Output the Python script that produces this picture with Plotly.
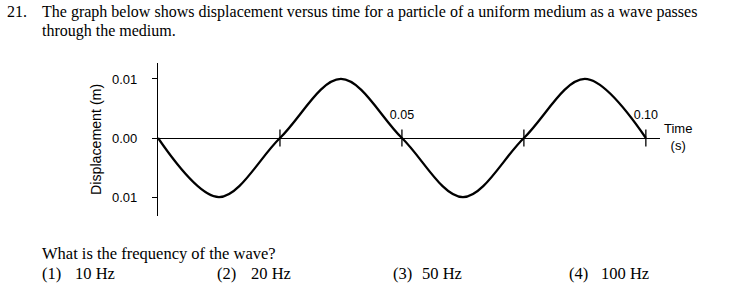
import plotly.graph_objects as go

# Wave data (zero crossings and extremes), in seconds and metres
time_s = [0.0, 0.0125, 0.025, 0.0375, 0.05, 0.0625, 0.075, 0.0875, 0.10]
disp_m = [0.0, -0.01, 0.0, 0.01, 0.0, -0.01, 0.0, 0.01, 0.0]

x_tick_marks = [0.025, 0.05, 0.075, 0.10]
x_tick_vals = [0.05, 0.10]
x_tick_text = ["0.05", "0.10"]
y_tick_vals = [-0.01, 0.0, 0.01]
y_tick_text = ["0.01", "0.00", "0.01"]

choice_nums = ["(1)", "(2)", "(3)", "(4)"]
choice_vals = ["10 Hz", "20 Hz", "50 Hz", "100 Hz"]

W, H = 731, 290
SANS = "Liberation Sans, Arial, sans-serif"
SERIF = "Liberation Serif, Times New Roman, serif"

fig = go.Figure()
fig.add_trace(go.Scatter(
    x=time_s, y=disp_m, mode="lines",
    line=dict(color="black", width=2.3, shape="spline", smoothing=1.0),
    hoverinfo="skip", showlegend=False, cliponaxis=False,
))
fig.add_trace(go.Scatter(
    x=x_tick_marks, y=[0] * len(x_tick_marks), mode="markers",
    marker=dict(symbol="line-ns-open", size=12, color="black",
                line=dict(color="black", width=1.3)),
    hoverinfo="skip", showlegend=False, cliponaxis=False,
))

fig.update_layout(
    width=W, height=H, autosize=False,
    margin=dict(l=0, r=0, t=0, b=0),
    paper_bgcolor="white", plot_bgcolor="white",
    xaxis=dict(
        domain=[158 / W, 660 / W], range=[0, 0.1029],
        anchor="free", position=1 - 138 / H, side="top",
        showline=True, linecolor="black", linewidth=1.3,
        showgrid=False, zeroline=False,
        tickmode="array", tickvals=x_tick_vals, ticktext=x_tick_text,
        ticks="", ticklabelstandoff=14,
        tickfont=dict(family=SANS, size=12.5, color="black"),
    ),
    yaxis=dict(
        domain=[1 - 216 / H, 1 - 63 / H], range=[-0.0132, 0.0127],
        anchor="x", showline=True, linecolor="black", linewidth=1.3,
        showgrid=False, zeroline=False,
        tickmode="array", tickvals=y_tick_vals, ticktext=y_tick_text,
        ticks="outside", ticklen=5, tickcolor="black", tickwidth=1.3,
        ticklabelstandoff=12,
        tickfont=dict(family=SANS, size=13, color="black"),
    ),
)

def txt(x, y, s, size=16, family=SERIF, **kw):
    fig.add_annotation(x=x / W, y=1 - y / H, xref="paper", yref="paper",
                       text=s, showarrow=False, xanchor=kw.get("xanchor", "left"),
                       yanchor="middle", textangle=kw.get("angle", 0),
                       font=dict(family=family, size=size, color="black"))

txt(5, 12, "21.")
txt(40, 12, "The graph below shows displacement versus time for a particle of a uniform medium as a wave passes")
txt(40, 31, "through the medium.")
txt(96, 140, "Displacement (m)", size=14.2, family=SANS, xanchor="center", angle=-90)
fig.add_annotation(x=678 / W, y=1 - 137 / H, xref="paper", yref="paper",
                   text="Time<br>(s)", showarrow=False, xanchor="center", yanchor="middle",
                   font=dict(family=SANS, size=13, color="black"))
txt(40, 253.5, "What is the frequency of the wave?", size=16.5)
num_x = [40, 215, 391, 567]
val_x = [73, 249, 420, 599]
for nx, vx, n, v in zip(num_x, val_x, choice_nums, choice_vals):
    txt(nx, 273, n, size=16.5)
    txt(vx, 273, v, size=16.5)

fig.write_html("out.html")
